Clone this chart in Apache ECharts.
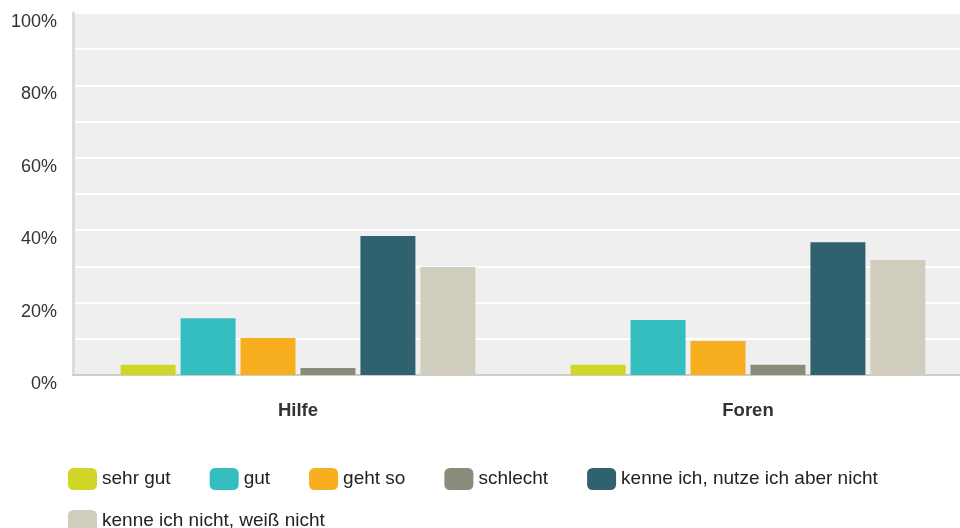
<!DOCTYPE html>
<html>
<head>
<meta charset="utf-8">
<script src="https://cdn.jsdelivr.net/npm/echarts@6/dist/echarts.min.js"></script>
<style>
  html, body { margin: 0; padding: 0; background: #fff; overflow: hidden; width: 960px; height: 528px; }
  /* the plot runs slightly past the right edge of the page */
  #chart { width: 973px; height: 528px; }
</style>
</head>
<body>
<div id="chart"></div>
<script>
// Survey answers per feature, in percent
const categories = ['Hilfe', 'Foren'];
const seriesNames = [
  'sehr gut',
  'gut',
  'geht so',
  'schlecht',
  'kenne ich, nutze ich aber nicht',
  'kenne ich nicht, weiß nicht'
];
const sehrGut = [2.8, 2.8];
const gut = [15.7, 15.2];
const gehtSo = [10.2, 9.4];
const schlecht = [1.9, 2.8];
const kenneNutzeNicht = [38.4, 36.7];
const kenneNicht = [29.8, 31.8];
const yTicks = [0, 20, 40, 60, 80, 100];

const colors = ['#d0d628', '#34bec0', '#f7af1f', '#8a8b7a', '#2f616e', '#d0cdbf'];
const values = [sehrGut, gut, gehtSo, schlecht, kenneNutzeNicht, kenneNicht];

const FONT = '"Liberation Sans", Arial, sans-serif';

const chart = echarts.init(document.getElementById('chart'), null, { renderer: 'canvas' });

const legendCommon = {
  itemWidth: 29,
  itemHeight: 22,
  itemGap: 39,
  icon: 'roundRect',
  padding: 0,
  textStyle: { fontFamily: FONT, fontSize: 19, color: '#222' }
};

chart.setOption({
  animation: false,
  color: colors,
  textStyle: { fontFamily: FONT },
  grid: {
    left: 73,
    right: 0,
    top: 13,
    bottom: 153,
    show: true,
    backgroundColor: '#efefef',
    borderWidth: 0
  },
  legend: [
    Object.assign({ left: 68, top: 468, data: seriesNames.slice(0, 5) }, legendCommon),
    Object.assign({ left: 68, top: 510, data: seriesNames.slice(5) }, legendCommon)
  ],
  xAxis: {
    type: 'category',
    data: categories,
    axisTick: { show: false },
    axisLine: { show: true, lineStyle: { color: '#cccccc', width: 2 } },
    axisLabel: {
      margin: 26,
      fontFamily: FONT,
      fontSize: 18.5,
      fontWeight: 'bold',
      color: '#333'
    }
  },
  yAxis: {
    type: 'value',
    min: 0,
    max: 100,
    interval: 10,
    axisLine: { show: true, lineStyle: { color: '#dcdcdc', width: 3 } },
    axisTick: { show: false },
    splitLine: { show: true, lineStyle: { color: '#ffffff', width: 2 } },
    axisLabel: {
      margin: 16,
      fontFamily: FONT,
      fontSize: 18,
      lineHeight: 18,
      verticalAlign: 'top',
      color: '#333',
      formatter: function (v) {
        return yTicks.indexOf(v) >= 0 ? v + '%' : '';
      }
    }
  },
  series: seriesNames.map(function (name, i) {
    return {
      name: name,
      type: 'bar',
      data: values[i],
      barWidth: 55,
      barGap: '9%',
      itemStyle: { color: colors[i] }
    };
  })
});
</script>
</body>
</html>
